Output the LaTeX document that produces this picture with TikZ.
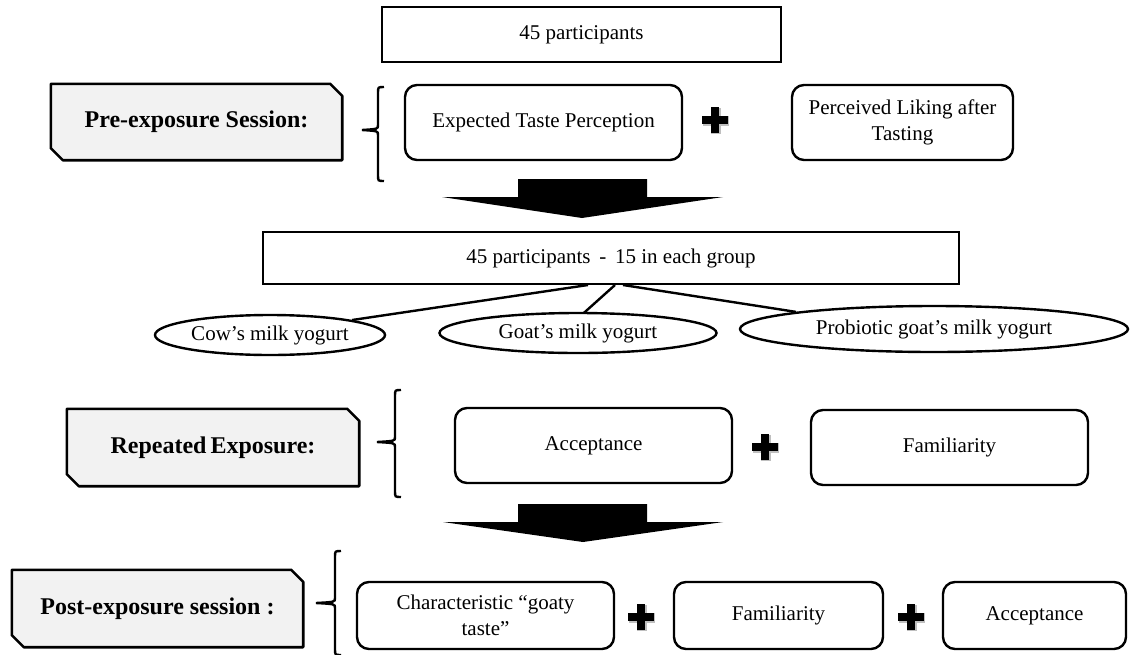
\documentclass[tikz,border=0pt]{standalone}
\usepackage{fontspec}
\setmainfont{Liberation Serif}
\usetikzlibrary{shapes.geometric,calc}
\newcommand\mylabel[6]{%
  \node[lab, minimum width=#4-#2, minimum height=#5-#3] (#1) at ({(#2+#4)/2},{(#3+#5)/2}) {#6};
  \draw[labline] (#1.north west) -- ($(#1.north east)+(-12,0)$) -- ($(#1.north east)+(0,12)$)
     -- (#1.south east) -- ($(#1.south west)+(12,0)$) -- ($(#1.south west)+(0,-12)$) -- cycle;
  \node[lab, minimum width=#4-#2, minimum height=#5-#3] at (#1) {#6};
}
\newcommand\myplus[3]{%
  \coordinate (#1) at (#2,#3);
  \fill[black!25] ($(#1)+(-12,-4)$) rectangle ($(#1)+(14,6)$);
  \fill[black!25] ($(#1)+(-4,-12)$) rectangle ($(#1)+(6,14)$);
  \fill[black] ($(#1)+(-13,-4)$) rectangle ($(#1)+(13,4)$);
  \fill[black] ($(#1)+(-4,-13)$) rectangle ($(#1)+(4,13)$);
}
\newcommand\mybrace[6]{% name, xv, xtip, ytop, ytip, ybot
  \draw[braceline] (#2+6,#4) .. controls (#2,#4) .. (#2,#4+6) -- (#2,#5-5)
     .. controls (#2,#5-1) .. (#3,#5) .. controls (#2,#5+1) .. (#2,#5+5)
     -- (#2,#6-6) .. controls (#2,#6) .. (#2+6,#6);
  \coordinate (#1) at (#3,#5);
}
\begin{document}
\begin{tikzpicture}[x=1pt,y=-1pt,
  txt/.style={font=\fontsize{21}{26}\selectfont, align=center},
  plainbox/.style={draw, line width=2pt, txt, inner sep=0pt},
  rbox/.style={draw, line width=2.4pt, rounded corners=12pt, txt, inner sep=0pt},
  oval/.style={ellipse, draw, line width=2.4pt, txt, inner sep=0pt},
  lab/.style={font=\fontsize{24}{28}\selectfont\bfseries, inner sep=0pt},
  labline/.style={draw, line width=2.6pt, fill=black!5, line join=round},
  braceline/.style={line width=2.4pt},
  conn/.style={line width=2.4pt},
  bigarrow/.style={fill=black}]
\useasboundingbox (0,0) rectangle (1130,654);

% top
\node[plainbox, minimum width=399pt, minimum height=55pt] (top) at (581.5,34.5) {45 participants};

% pre-exposure
\mylabel{pre}{51}{84}{342}{160}{Pre-exposure Session:}
\mybrace{b1}{378}{362}{87}{130}{181}
\node[rbox, minimum width=277pt, minimum height=75pt] (etp) at (543.5,122.5) {Expected Taste Perception};
\myplus{p1}{715}{120}
\node[rbox, minimum width=221pt, minimum height=75pt] (pl) at (902.5,122.5) {Perceived Liking after\\Tasting};

% arrow 1
\fill[bigarrow] (518,179) -- (647,179) -- (647,197) -- (723,197) -- (582,218) -- (442,197) -- (518,197) -- cycle;

% middle
\node[plainbox, minimum width=696pt, minimum height=52pt] (mid) at (611,258) {45 participants \,-\, 15 in each group};
\node[oval, minimum width=230pt, minimum height=40pt] (cow) at (270,335) {Cow’s milk yogurt};
\node[oval, minimum width=277pt, minimum height=40pt] (goat) at (578,333) {Goat’s milk yogurt};
\node[oval, minimum width=388pt, minimum height=46pt] (pro) at (934,329) {Probiotic goat’s milk yogurt};
\draw[conn] ($(mid.south)+(-23,0)$) -- (cow.north east);
\draw[conn] ($(mid.south)+(4,0)$) -- ($(goat.north)+(6,1)$);
\draw[conn] ($(mid.south)+(12,0)$) -- (pro.north west);

% repeated
\mylabel{rep}{67}{409}{359}{486}{Repeated\,Exposure:}
\mybrace{b2}{395}{377}{390}{442}{497}
\node[rbox, minimum width=277pt, minimum height=75pt] (acc) at (593.5,445.5) {Acceptance};
\myplus{p2}{765}{447}
\node[rbox, minimum width=277pt, minimum height=75pt] (fam) at (949.5,447.5) {Familiarity};

% arrow 2
\fill[bigarrow] (518,504) -- (647,504) -- (647,522) -- (723,522) -- (583,542) -- (443,522) -- (518,522) -- cycle;

% post
\mylabel{post}{12}{570}{303}{647}{Post-exposure session :}
\mybrace{b3}{335}{316}{551}{603}{655}
\node[rbox, minimum width=257pt, minimum height=67pt] (char) at (485.5,615.5) {Characteristic “goaty\\taste”};
\myplus{p3}{641}{617}
\node[rbox, minimum width=209pt, minimum height=67pt] (fam2) at (778.5,615.5) {Familiarity};
\myplus{p4}{911}{617}
\node[rbox, minimum width=183pt, minimum height=67pt] (acc2) at (1034.5,615.5) {Acceptance};
\end{tikzpicture}
\end{document}
